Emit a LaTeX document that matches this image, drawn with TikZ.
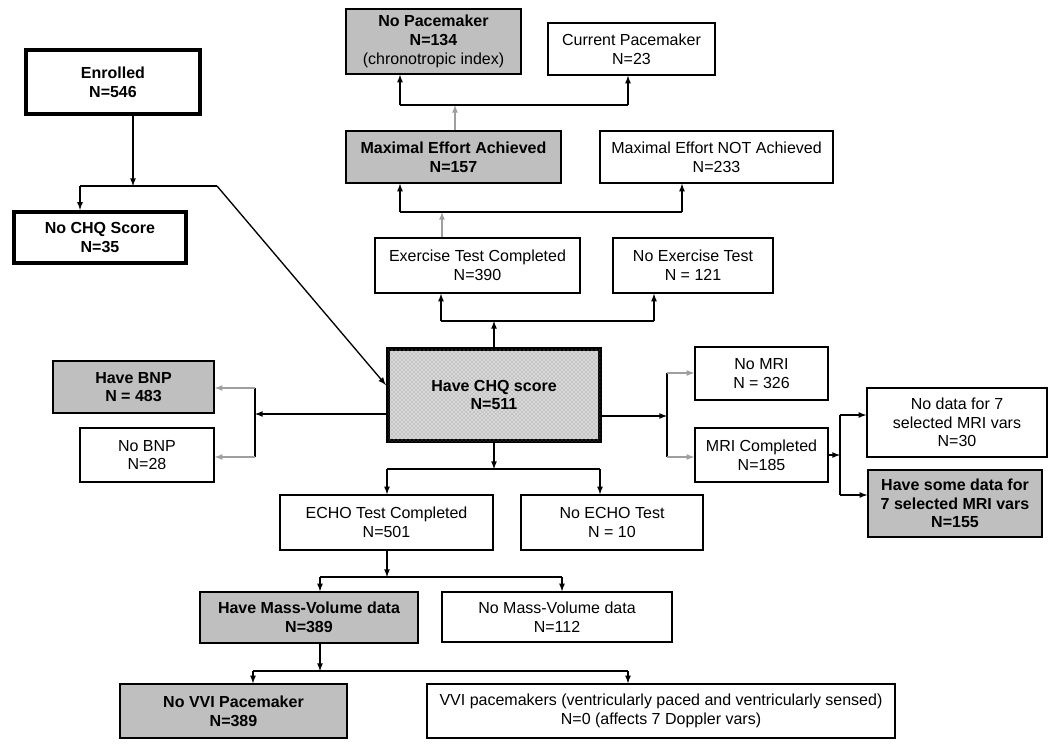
\documentclass[tikz,border=0pt]{standalone}
\usepackage{fontspec}
\setmainfont{Liberation Sans}
\usetikzlibrary{calc,patterns}
\tikzset{
	box/.style={draw=black, line width=1pt, inner sep=0pt, align=center, font=\fontsize{12}{14}\selectfont},
	strong/.style={box, font=\fontsize{12}{14}\selectfont\bfseries},
	shaded/.style={strong, fill=gray!50},
	heavy/.style={strong, line width=3.2pt},
	link/.style={line width=1pt, draw=black},
	arr/.style={link, -latex},
	feed/.style={arr, draw=gray!75},
}

\begin{document}
\begin{tikzpicture}[x=0.75pt, y=-0.75pt]
		%%%%% START %%%%%
		\useasboundingbox (0,0) rectangle (1050,746);
		
		\node[heavy, minimum width=130.5pt, minimum height=48pt] (enrolled) at (113, 82) {Enrolled\\N=546};
		\node[heavy, minimum width=129pt, minimum height=38.25pt] (nochq) at (100, 237.5) {No CHQ Score\\N=35};
		\node[heavy, minimum width=159pt, minimum height=69pt, fill=gray!30, postaction={pattern=crosshatch dots, pattern color=gray}] (havechq) at (494, 395) {Have CHQ score\\N=511};
		
		% exercise branch
		\node[shaded, minimum width=131.25pt, minimum height=48.75pt] (nopace) at (433.5, 41.5) {No Pacemaker\\N=134\\\mdseries(chronotropic index)};
		\node[box, minimum width=125.25pt, minimum height=39pt] (curpace) at (631.5, 49) {Current Pacemaker\\N=23};
		\node[shaded, minimum width=161.25pt, minimum height=39pt] (maxach) at (453.5, 157) {Maximal Effort Achieved\\N=157};
		\node[box, minimum width=174.75pt, minimum height=39pt] (maxnot) at (716.5, 157) {Maximal Effort NOT Achieved\\N=233};
		\node[box, minimum width=153.75pt, minimum height=41.25pt] (exer) at (477.5, 265.5) {Exercise Test Completed\\N=390};
		\node[box, minimum width=120pt, minimum height=41.25pt] (noexer) at (693, 265.5) {No Exercise Test\\N = 121};
		
		% BNP branch
		\node[shaded, minimum width=120.75pt, minimum height=39pt] (havebnp) at (133.5, 387) {Have BNP\\N = 483};
		\node[box, minimum width=100.5pt, minimum height=40.5pt] (nobnp) at (147, 455) {No BNP\\N=28};
		
		% MRI branch
		\node[box, minimum width=99.75pt, minimum height=39.75pt] (nomri) at (761.5, 373.5) {No MRI\\N = 326};
		\node[box, minimum width=99.75pt, minimum height=40.5pt] (mricomp) at (761.5, 455) {MRI Completed\\N=185};
		\node[box, minimum width=135pt, minimum height=51.75pt] (nodata) at (957, 422.5) {No data for 7\\selected MRI vars\\N=30};
		\node[shaded, minimum width=130.5pt, minimum height=50.25pt] (somedata) at (955, 503.5) {Have some data for\\7 selected MRI vars\\N=155};
		
		% ECHO branch
		\node[box, minimum width=159.75pt, minimum height=41.25pt] (echo) at (386.5, 522.5) {ECHO Test Completed\\N=501};
		\node[box, minimum width=136.5pt, minimum height=41.25pt] (noecho) at (612, 522.5) {No ECHO Test\\N = 10};
		\node[shaded, minimum width=163.5pt, minimum height=38.25pt] (havemass) at (309, 617.5) {Have Mass-Volume data\\N=389};
		\node[box, minimum width=172.5pt, minimum height=37.5pt] (nomass) at (557, 617) {No Mass-Volume data\\N=112};
		\node[shaded, minimum width=170.25pt, minimum height=40.5pt] (novvi) at (233.5, 711) {No VVI Pacemaker\\N=389};
		\node[box, minimum width=351pt, minimum height=40.5pt] (vvi) at (661, 711) {VVI pacemakers (ventricularly paced and ventricularly sensed)\\N=0 (affects 7 Doppler vars)};
		
		% enrolled split
		\coordinate (enrJ) at (133, 186);
		\coordinate (enrL) at (80, 186);
		\coordinate (enrR) at (217, 186);
		\draw[arr] (enrolled.south -| enrJ) -- (enrJ);
		\draw[link] (enrL) -- (enrR);
		\draw[arr] (enrL) -- (enrL |- nochq.north);
		\draw[arr] (enrR) -- ($(havechq.west)+(0,-10)$);
		
		% up to exercise
		\coordinate (exJ) at (494, 321);
		\coordinate (exL) at (441, 321);
		\coordinate (exR) at (654, 321);
		\draw[arr] (havechq.north) -- (exJ);
		\draw[link] (exL) -- (exR);
		\draw[arr] (exL) -- (exL |- exer.south);
		\draw[arr] (exR) -- (exR |- noexer.south);
		
		\coordinate (mxJ) at (442, 212);
		\coordinate (mxL) at (400, 212);
		\coordinate (mxR) at (682, 212);
		\draw[feed] (exer.north -| mxJ) -- (mxJ);
		\draw[link] (mxL) -- (mxR);
		\draw[arr] (mxL) -- (mxL |- maxach.south);
		\draw[arr] (mxR) -- (mxR |- maxnot.south);
		
		\coordinate (pcJ) at (455, 105);
		\coordinate (pcL) at (400, 105);
		\coordinate (pcR) at (628, 105);
		\draw[feed] (maxach.north -| pcJ) -- (pcJ);
		\draw[link] (pcL) -- (pcR);
		\draw[arr] (pcL) -- (pcL |- nopace.south);
		\draw[arr] (pcR) -- (pcR |- curpace.south);
		
		% left to BNP
		\coordinate (bnJ) at (255, 414);
		\coordinate (bnT) at (255, 388);
		\coordinate (bnB) at (255, 457);
		\draw[arr] (havechq.west |- bnJ) -- (bnJ);
		\draw[link] (bnT) -- (bnB);
		\draw[feed] (bnT) -- (havebnp.east |- bnT);
		\draw[feed] (bnB) -- (nobnp.east |- bnB);
		
		% right to MRI
		\coordinate (mrJ) at (667, 416);
		\coordinate (mrT) at (667, 373);
		\coordinate (mrB) at (667, 457);
		\draw[arr] (havechq.east |- mrJ) -- (mrJ);
		\draw[link] (mrT) -- (mrB);
		\draw[feed] (mrT) -- (nomri.west |- mrT);
		\draw[feed] (mrB) -- (mricomp.west |- mrB);
		
		\coordinate (vrJ) at (840, 455);
		\coordinate (vrT) at (840, 415);
		\coordinate (vrB) at (840, 495);
		\draw[arr] (mricomp.east |- vrJ) -- (vrJ);
		\draw[link] (vrT) -- (vrB);
		\draw[arr] (vrT) -- (nodata.west |- vrT);
		\draw[arr] (vrB) -- (somedata.west |- vrB);
		
		% down to ECHO
		\coordinate (ecJ) at (494, 469);
		\coordinate (ecL) at (387, 469);
		\coordinate (ecR) at (600, 469);
		\draw[arr] (havechq.south) -- (ecJ);
		\draw[link] (ecL) -- (ecR);
		\draw[arr] (ecL) -- (ecL |- echo.north);
		\draw[arr] (ecR) -- (ecR |- noecho.north);
		
		\coordinate (msJ) at (387, 577);
		\coordinate (msL) at (320, 577);
		\coordinate (msR) at (562, 577);
		\draw[arr] (echo.south -| msJ) -- (msJ);
		\draw[link] (msL) -- (msR);
		\draw[arr] (msL) -- (msL |- havemass.north);
		\draw[arr] (msR) -- (msR |- nomass.north);
		
		\coordinate (vvJ) at (320, 671);
		\coordinate (vvL) at (253, 671);
		\coordinate (vvR) at (628, 671);
		\draw[arr] (havemass.south -| vvJ) -- (vvJ);
		\draw[link] (vvL) -- (vvR);
		\draw[arr] (vvL) -- (vvL |- novvi.north);
		\draw[arr] (vvR) -- (vvR |- vvi.north);
		
		%%%%% END %%%%%
\end{tikzpicture}
\end{document}
